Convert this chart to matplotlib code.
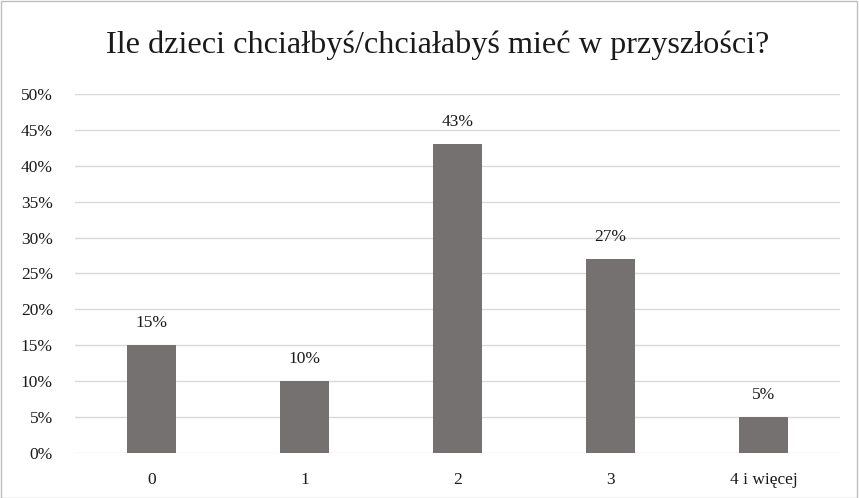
import matplotlib.pyplot as plt
from matplotlib.patches import Rectangle
from matplotlib.ticker import PercentFormatter

plt.rcParams['font.family'] = ['Liberation Serif', 'DejaVu Serif']

categories = ['0', '1', '2', '3', '4 i więcej']
values = [15, 10, 43, 27, 5]
title = 'Ile dzieci chciałbyś/chciałabyś mieć w przyszłości?'

fig = plt.figure(figsize=(8.59, 4.98), dpi=100)
ax = fig.add_axes([0.0873, 0.0904, 0.8906, 0.7209])

x = range(len(categories))
bars = ax.bar(x, values, width=0.32, color='#767171', zorder=3)
for b, v in zip(bars, values):
    ax.annotate(f'{v}%', (b.get_x() + b.get_width() / 2, v),
                xytext=(0, 10), textcoords='offset points',
                ha='center', va='bottom', fontsize=12.5, color='#1a1a1a')

ax.set_xlim(-0.5, len(categories) - 0.5)
ax.set_ylim(0, 50)
ax.set_yticks(range(0, 51, 5))
ax.yaxis.set_major_formatter(PercentFormatter(decimals=0))
ax.set_xticks(list(x))
ax.set_xticklabels(categories)
ax.tick_params(axis='both', length=0, labelsize=12.5, labelcolor='#1a1a1a')
ax.tick_params(axis='y', pad=16)
ax.tick_params(axis='x', pad=14)
ax.grid(axis='y', color='#d9d9d9', linewidth=1, zorder=0)
for s in ax.spines.values():
    s.set_visible(False)

fig.text(0.509, 0.91, title, ha='center', va='center', fontsize=23.2, color='#1a1a1a')
fig.patches.append(Rectangle((0.001, 0.001), 0.997, 0.997, transform=fig.transFigure,
                             fill=False, edgecolor='#bfbfbf', linewidth=1))

fig.savefig('out.png', dpi=100)
